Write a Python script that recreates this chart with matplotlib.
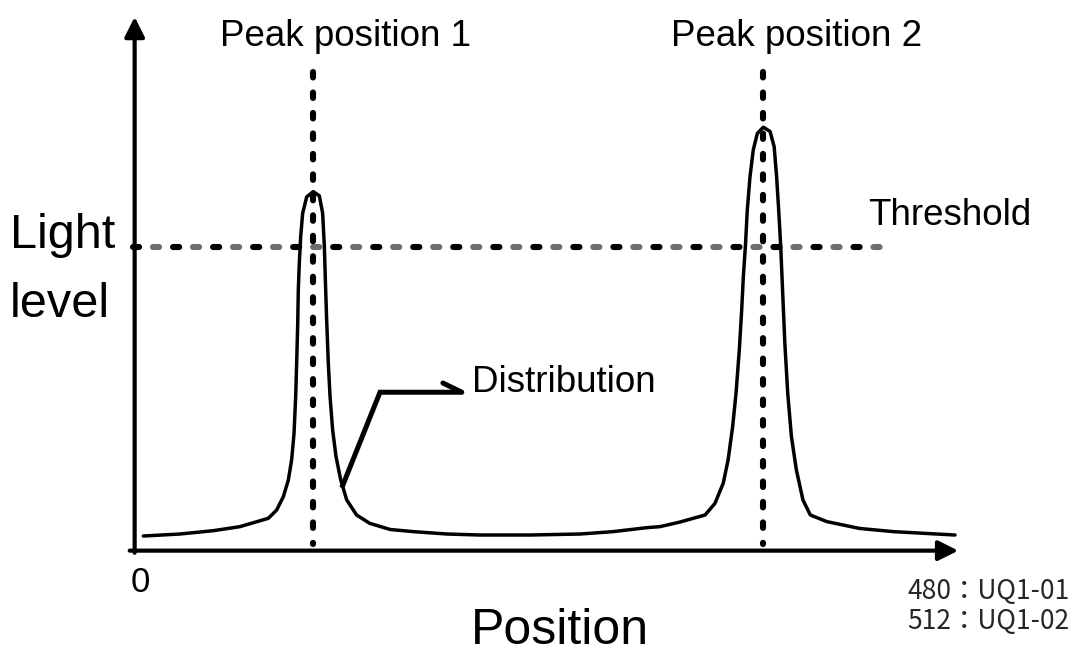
import matplotlib.pyplot as plt

plt.rcParams['font.family'] = ['Liberation Sans', 'DejaVu Sans']

# light distribution along the position axis (both axes run 0-100)
pos = [1.26, 5.72, 9.77, 13.0, 16.46, 17.48, 18.29, 18.9, 19.3, 19.59, 19.79,
       19.91, 20.04, 20.11, 20.23, 20.4, 20.64, 21.13, 21.93, 22.67, 23.07,
       23.28, 23.4, 23.56, 23.76, 23.97, 24.29, 24.7, 25.27, 26.0, 27.2, 28.8,
       31.3, 34.1, 38.2, 42.2, 48.3, 54.4, 58.4, 62.5, 64.1, 66.5, 69.6, 70.8,
       71.8, 72.4, 72.95, 73.36, 73.76, 74.05, 74.25, 74.5, 74.73, 75.06, 75.46,
       75.95, 76.68, 77.5, 78.0, 78.3, 78.55, 78.8, 79.04, 79.3, 79.65, 80.1,
       80.7, 81.5, 82.4, 84.4, 88.4, 92.5, 100.0]
level = [2.27, 2.65, 3.28, 4.04, 5.62, 7.2, 9.72, 12.9, 16.7, 21.7, 28.7,
         35.0, 42.6, 48.9, 53.9, 59.0, 63.4, 66.5, 67.5, 66.7, 63.4,
         57.1, 50.8, 43.2, 35.0, 28.7, 22.3, 17.3, 12.9, 9.1, 6.25, 4.67,
         3.5, 3.1, 2.65, 2.46, 2.46, 2.65, 3.1, 3.85, 4.04, 4.9, 6.25, 8.46,
         12.25, 16.7, 23.0, 29.3, 37.5, 45.1, 51.4, 57.1, 64.0, 70.3, 75.4,
         78.5, 79.7, 78.9, 76.0, 70.3, 64.0, 57.1, 48.2, 38.8, 29.3, 21.1,
         14.8, 9.1, 6.25, 5.0, 3.7, 3.1, 2.46]

peak_pos = [21.9, 76.6]
peak_labels = ['Peak position 1', 'Peak position 2']
peak_label_x = [25.8, 80.7]
threshold = 57.0
threshold_end = 91.0

# pointer from the curve to the "Distribution" label
pointer_x = [25.4, 30.05, 40.0]
pointer_y = [11.4, 29.5, 29.5]
barb_x = [37.7, 40.0]
barb_y = [31.25, 29.5]

fig = plt.figure(figsize=(10.78, 6.61), dpi=100)
ax = fig.add_axes([133 / 1078, 113 / 661, 822 / 1078, 528 / 661])
ax.set_xlim(0, 100)
ax.set_ylim(0, 100)
ax.axis('off')

# axes drawn as arrows
arrow = dict(arrowstyle='-|>,head_length=0.6,head_width=0.3', lw=3,
             color='black', mutation_scale=20, shrinkA=0, shrinkB=0)
ax.annotate('', xy=(1.004, -0.005), xytext=(-0.004, -0.005),
            xycoords='axes fraction', arrowprops=arrow, annotation_clip=False)
ax.annotate('', xy=(0.002, 1.006), xytext=(0.002, -0.009),
            xycoords='axes fraction', arrowprops=arrow, annotation_clip=False)

# threshold: alternating black and grey dots
lw_t = 4.4
ax.plot([0, threshold_end], [threshold, threshold], color='black', lw=lw_t,
        linestyle=(0, (1.0, 5.55)), dash_capstyle='round', clip_on=False)
ax.plot([0, threshold_end], [threshold, threshold], color='#6e6e6e', lw=lw_t,
        linestyle=(3.28, (1.0, 5.55)), dash_capstyle='round', clip_on=False)

# dotted peak markers
for p in peak_pos:
    ax.plot([p, p], [90.2, 0.8], color='black', lw=4.4,
            linestyle=(0, (0.9, 2.45)), dash_capstyle='round', clip_on=False)

ax.plot(pos, level, color='black', lw=2.5, solid_joinstyle='round',
        solid_capstyle='round', clip_on=False)

ax.plot(pointer_x, pointer_y, color='black', lw=3.6, solid_joinstyle='miter',
        solid_capstyle='butt', clip_on=False)
ax.plot(barb_x, barb_y, color='black', lw=3.6, solid_capstyle='round',
        clip_on=False)

for x, lab in zip(peak_label_x, peak_labels):
    ax.text(x, 95.0, lab, fontsize=26.5, ha='center', va='baseline',
            clip_on=False)

ax.text(89.4, 61.2, 'Threshold', fontsize=26.5, ha='left', va='baseline')
ax.text(41.2, 29.5, 'Distribution', fontsize=26.5, ha='left', va='baseline')
ax.text(0.85, -6.6, '0', fontsize=25, ha='center', va='center', clip_on=False)
ax.text(51.9, -15.8, 'Position', fontsize=36, ha='center', va='center',
        clip_on=False)
ax.text(-15.0, 56.8, 'Light', fontsize=35, ha='left', va='baseline',
        clip_on=False)
ax.text(-15.0, 43.8, 'level', fontsize=35, ha='left', va='baseline',
        clip_on=False)

cjk = ['Noto Sans CJK JP', 'DejaVu Sans']
fig.text(907 / 1078, 1 - 592 / 661, '480：UQ1-01', fontsize=19, color='#262626',
         family=cjk, ha='left', va='center')
fig.text(907 / 1078, 1 - 622 / 661, '512：UQ1-02', fontsize=19, color='#262626',
         family=cjk, ha='left', va='center')

fig.savefig('out.png', dpi=100)
